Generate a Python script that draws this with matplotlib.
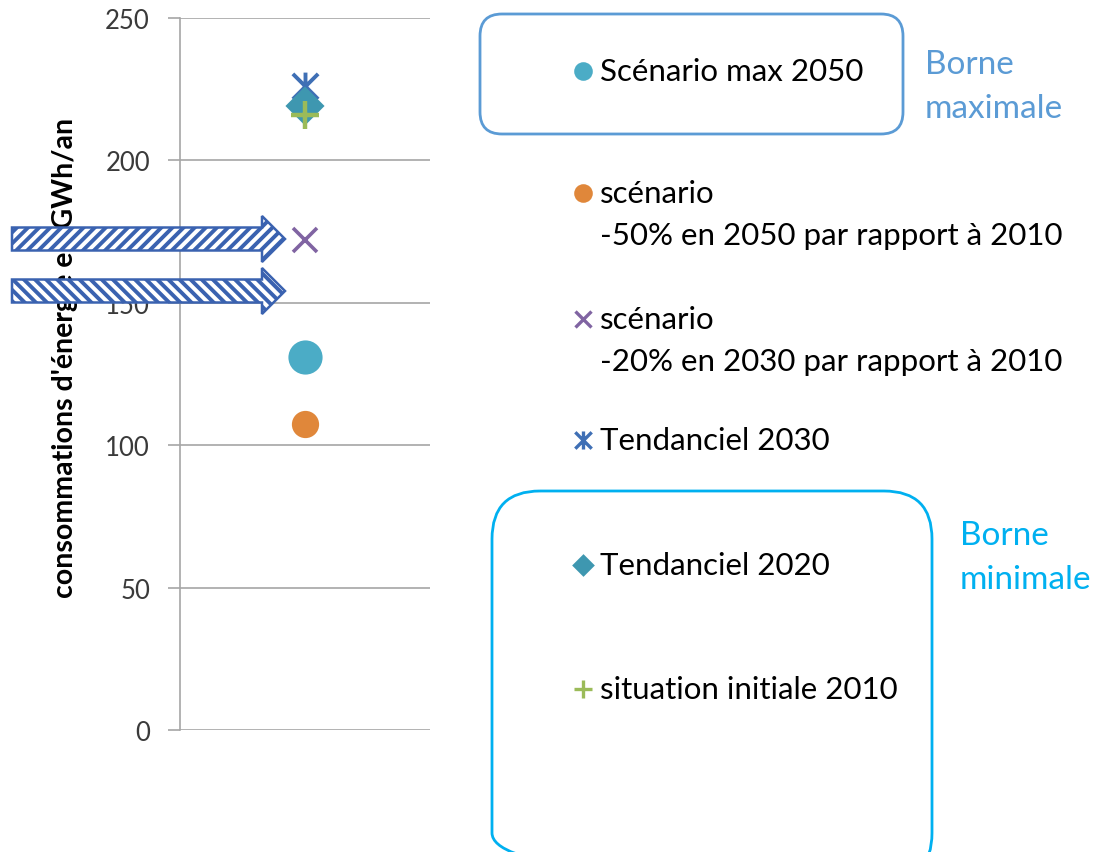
import matplotlib.pyplot as plt
from matplotlib.path import Path
from matplotlib.patches import FancyBboxPatch, FancyArrow

plt.rcParams['font.family'] = ['Lato', 'DejaVu Sans']
plt.rcParams['hatch.linewidth'] = 2.8

# donnees (GWh/an)
noms = ["Scénario max 2050",
        "scénario\n-50% en 2050 par rapport à 2010",
        "scénario\n-20% en 2030 par rapport à 2010",
        "Tendanciel 2030",
        "Tendanciel 2020",
        "situation initiale 2010"]
valeurs = [131, 107.5, 172, 226, 219, 216]
couleurs = ['#4BACC6', '#E0873A', '#8064A2', '#3F6FB5', '#3E97B0', '#9BBB59']
yticks = [0, 50, 100, 150, 200, 250]

# marqueur etoile facon Excel (x + barre verticale)
etoile = Path([(-1, -1), (1, 1), (-1, 1), (1, -1), (0, -1.1), (0, 1.1)],
              [Path.MOVETO, Path.LINETO, Path.MOVETO, Path.LINETO, Path.MOVETO, Path.LINETO])
marqueurs = ['o', 'o', 'x', etoile, 'D', '+']
tailles = [22, 17, 17, 20, 17, 20]
epaisseurs = [2.6, 2.6, 2.6, 2.8, 2.6, 3.2]
tailles_leg = [11, 11, 12, 13, 9, 13]

W, H = 1105, 853
fig = plt.figure(figsize=(W / 100, H / 100), dpi=100)
ax = fig.add_axes([180 / W, 122 / H, 250 / W, 712 / H])

for i in range(len(noms)):
    ax.plot([0], [valeurs[i]], linestyle='none', marker=marqueurs[i], markersize=tailles[i],
            color=couleurs[i], markeredgewidth=epaisseurs[i])

ax.set_xlim(-1, 1)
ax.set_ylim(0, 250)
ax.set_yticks(yticks)
ax.set_xticks([])
ax.yaxis.grid(True, color='#A6A6A6', linewidth=1.2)
ax.set_axisbelow(True)
for s in ['top', 'right', 'bottom']:
    ax.spines[s].set_visible(False)
ax.spines['left'].set_color('#A6A6A6')
ax.spines['left'].set_linewidth(1.2)
ax.tick_params(axis='y', length=8.6, width=1.2, color='#A6A6A6', pad=13, labelsize=18.5, labelcolor='#3A3A3A')

fig.text(65 / W, 1 - 358 / H, "consommations d'énergie en GWh/an", rotation=90, ha='center', va='center',
         fontsize=20.5, fontweight='bold', color='black')

# calque en pixels pour la legende, les cadres et les fleches
ov = fig.add_axes([0, 0, 1, 1], zorder=5)
ov.set_xlim(0, W)
ov.set_ylim(H, 0)
ov.axis('off')

leg_y = [72, 194, 320, 441, 566, 690]
for i in range(len(noms)):
    ov.plot([583], [leg_y[i]], linestyle='none', marker=marqueurs[i], markersize=tailles_leg[i],
            color=couleurs[i], markeredgewidth=2.4)
    lignes = noms[i].split('\n')
    for k, t in enumerate(lignes):
        ov.text(600, leg_y[i] + 42 * k, t, fontsize=22.5, va='center', ha='left', color='black')

ov.add_patch(FancyBboxPatch((480, 15), 423, 120, boxstyle='round,pad=0,rounding_size=22',
                            fill=False, edgecolor='#5B9BD5', linewidth=2))
ov.text(925, 65, "Borne", fontsize=24, color='#5B9BD5', va='center')
ov.text(925, 109, "maximale", fontsize=24, color='#5B9BD5', va='center')

ov.add_patch(FancyBboxPatch((492, 492), 440, 390, boxstyle='round,pad=0,rounding_size=48',
                            fill=False, edgecolor='#00B0F0', linewidth=2))
ov.text(960, 536, "Borne", fontsize=24, color='#00B0F0', va='center')
ov.text(960, 580, "minimale", fontsize=24, color='#00B0F0', va='center')

for yc, h in [(240, '///'), (292, '\\\\\\')]:
    ov.add_patch(FancyArrow(12, yc, 273, 0, width=23, head_width=46, head_length=23,
                            length_includes_head=True, facecolor='white', edgecolor='#3A62B0',
                            hatch=h, linewidth=1.8))

fig.savefig('out.png', dpi=100)
